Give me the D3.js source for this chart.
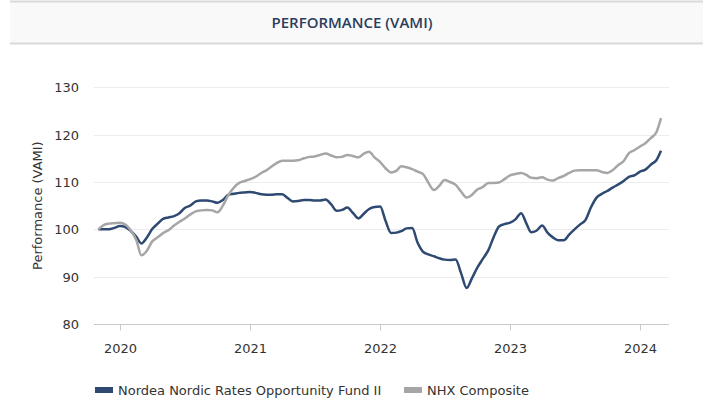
<!DOCTYPE html>
<html>
<head>
<meta charset="utf-8">
<script src="https://cdn.jsdelivr.net/npm/d3@7"></script>
<style>
  body { margin: 0; background: #fff; }
  svg { display: block; }
  svg text { font-family: "DejaVu Sans", Verdana, sans-serif; font-size: 13px; fill: #333; }
  svg text.title { font-family: "Open Sans", sans-serif; font-weight: 600; font-size: 15px; fill: #2c3d5e; }
</style>
</head>
<body>
<svg id="chart" width="703" height="402"></svg>
<script>
// semi-monthly observations, 1st and 16th of each month, Nov 2019 .. Feb 2024
var firstMonth = "2019-11-01";
var lastDate = "2024-02-29";

var fund = [
  100.0, 100.0, 100.0, 100.3, 100.7, 100.5, 99.6, 98.4, 97.0, 98.2,
  100.1, 101.2, 102.2, 102.5, 102.8, 103.4, 104.5, 105.0, 105.9, 106.1,
  106.1, 105.9, 105.6, 106.2, 107.3, 107.5, 107.7, 107.8, 107.9, 107.7,
  107.4, 107.3, 107.3, 107.4, 107.4, 106.6, 105.9, 106.0, 106.2, 106.2,
  106.1, 106.1, 106.3, 105.3, 103.9, 104.1, 104.6, 103.5, 102.3, 103.3,
  104.3, 104.7, 104.8, 101.8, 99.2, 99.3, 99.6, 100.2, 100.3, 97.2,
  95.3, 94.7, 94.3, 93.9, 93.6, 93.5, 93.6, 90.8, 87.6, 89.7,
  91.9, 93.7, 95.6, 98.4, 100.6, 101.1, 101.4, 102.1, 103.4, 101.2,
  99.4, 99.7, 100.8, 99.3, 98.3, 97.7, 97.7, 98.9, 100.0, 101.0,
  102.0, 104.6, 106.7, 107.5, 108.1, 108.8, 109.5, 110.2, 111.1, 111.4,
  112.2, 112.6, 113.7, 114.6, 116.6
];

var nhx = [
  100.0, 100.9, 101.2, 101.3, 101.4, 101.0, 99.7, 97.7, 94.5, 95.4,
  97.5, 98.3, 99.2, 99.8, 100.8, 101.6, 102.3, 103.1, 103.8, 104.0,
  104.1, 104.0, 103.6, 105.0, 107.3, 108.8, 109.8, 110.2, 110.6, 111.1,
  111.9, 112.5, 113.2, 114.0, 114.5, 114.5, 114.5, 114.6, 115.0, 115.3,
  115.4, 115.7, 116.0, 115.6, 115.2, 115.3, 115.7, 115.5, 115.2, 116.0,
  116.4, 115.2, 114.2, 112.9, 112.0, 112.4, 113.3, 113.1, 112.7, 112.2,
  111.7, 109.9, 108.3, 109.2, 110.4, 110.0, 109.4, 108.0, 106.7, 107.3,
  108.4, 108.9, 109.8, 109.8, 109.9, 110.6, 111.4, 111.7, 111.9, 111.5,
  110.9, 110.8, 111.0, 110.5, 110.3, 110.8, 111.3, 111.9, 112.4, 112.5,
  112.5, 112.5, 112.5, 112.1, 111.9, 112.5, 113.6, 114.4, 116.1, 116.7,
  117.5, 118.2, 119.3, 120.5, 123.5
];

var yTicks = [80, 90, 100, 110, 120, 130];
var xTickYears = ["2020", "2021", "2022", "2023", "2024"];
var seriesNames = ["Nordea Nordic Rates Opportunity Fund II", "NHX Composite"];
var seriesColors = ["#2f4a72", "#a6a6a6"];

var parse = d3.timeParse("%Y-%m-%d");
var dates = [];
d3.timeMonth.range(parse(firstMonth), parse(lastDate)).forEach(function(m) {
  dates.push(m);
  dates.push(d3.timeDay.offset(m, 15));
});
dates.push(parse(lastDate));

var svg = d3.select("#chart");

// title band
svg.append("rect").attr("x", 10).attr("y", 2).attr("width", 693).attr("height", 41)
  .attr("fill", "#f9f9f9");
svg.append("rect").attr("x", 10).attr("y", 0.5).attr("width", 693).attr("height", 2)
  .attr("fill", "#d9d9d9");
svg.append("rect").attr("x", 10).attr("y", 42.5).attr("width", 693).attr("height", 2)
  .attr("fill", "#d9d9d9");
svg.append("text")
  .attr("class", "title")
  .attr("x", 352).attr("y", 27.5)
  .attr("text-anchor", "middle")
  .text("PERFORMANCE (VAMI)");

var x = d3.scaleTime()
  .domain([parse("2020-01-01"), parse("2024-01-01")])
  .range([120, 640]);
var y = d3.scaleLinear().domain([80, 130]).range([324, 87.3]);

var left = 94, right = 669;

// grid
svg.append("g").selectAll("line")
  .data(yTicks.slice(1))
  .join("line")
    .attr("x1", left).attr("x2", right)
    .attr("y1", function(d) { return Math.round(y(d)) + 0.5; })
    .attr("y2", function(d) { return Math.round(y(d)) + 0.5; })
    .attr("stroke", "#ececec")
    .attr("stroke-width", 1);

// y labels
svg.append("g").selectAll("text")
  .data(yTicks)
  .join("text")
    .attr("x", 79)
    .attr("y", function(d) { return y(d) + 5; })
    .attr("text-anchor", "end")
    .text(function(d) { return d; });

svg.append("text")
  .attr("transform", "translate(42," + y(105) + ") rotate(-90)")
  .attr("text-anchor", "middle")
  .text("Performance (VAMI)");

// x axis
var xAxis = svg.append("g")
  .attr("transform", "translate(0," + (Math.round(y(80)) + 0.5) + ")");
xAxis.append("line")
  .attr("x1", left).attr("x2", right)
  .attr("stroke", "#c8c8c8");
var xt = xAxis.selectAll("g.tick")
  .data(xTickYears)
  .join("g")
    .attr("class", "tick")
    .attr("transform", function(d) { return "translate(" + (Math.round(x(parse(d + "-01-01"))) + 0.5) + ",0)"; });
xt.append("line").attr("y2", 6).attr("stroke", "#c8c8c8");
xt.append("text")
  .attr("y", 28.5)
  .attr("text-anchor", "middle")
  .text(function(d) { return d; });

// lines
var line = d3.line()
  .x(function(d) { return x(d[0]); })
  .y(function(d) { return y(d[1]); })
  .curve(d3.curveMonotoneX);

[fund, nhx].forEach(function(vals, i) {
  svg.append("path")
    .datum(dates.map(function(d, j) { return [d, vals[j]]; }))
    .attr("fill", "none")
    .attr("stroke", seriesColors[i])
    .attr("stroke-width", 2.5)
    .attr("stroke-linejoin", "round")
    .attr("d", line);
});

// legend
var legendX = [95, 404];
var lg = svg.append("g").selectAll("g")
  .data(seriesNames)
  .join("g")
    .attr("transform", function(d, i) { return "translate(" + legendX[i] + ",390)"; });
lg.append("rect")
  .attr("x", 0).attr("y", -3)
  .attr("width", 18).attr("height", 6)
  .attr("fill", function(d, i) { return seriesColors[i]; });
lg.append("text")
  .attr("x", 23).attr("y", 5)
  .text(function(d) { return d; });
</script>
</body>
</html>
